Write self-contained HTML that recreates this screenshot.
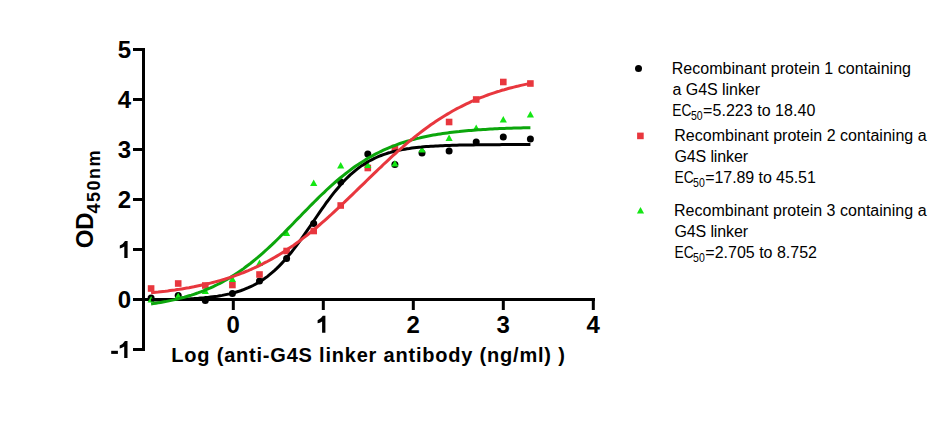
<!DOCTYPE html>
<html><head><meta charset="utf-8"><style>
html,body{margin:0;padding:0;background:#fff;}
body{width:950px;height:425px;overflow:hidden;}
svg{display:block;font-family:"Liberation Sans", sans-serif;}
</style></head><body>
<svg width="950" height="425" viewBox="0 0 950 425" font-family='"Liberation Sans", sans-serif'>
<rect width="950" height="425" fill="#fff"/>
<path d="M143.5,48 V351" stroke="#000" stroke-width="3" fill="none"/>
<path d="M133,349.5 H145" stroke="#000" stroke-width="3"/>
<path d="M133,299.5 H145" stroke="#000" stroke-width="3"/>
<path d="M133,249.5 H145" stroke="#000" stroke-width="3"/>
<path d="M133,199.5 H145" stroke="#000" stroke-width="3"/>
<path d="M133,149.5 H145" stroke="#000" stroke-width="3"/>
<path d="M133,99.5 H145" stroke="#000" stroke-width="3"/>
<path d="M133,49.5 H145" stroke="#000" stroke-width="3"/>
<path d="M142,299.5 H595" stroke="#000" stroke-width="3" fill="none"/>
<path d="M233.3,299.5 V310" stroke="#000" stroke-width="3"/>
<path d="M323.3,299.5 V310" stroke="#000" stroke-width="3"/>
<path d="M413.3,299.5 V310" stroke="#000" stroke-width="3"/>
<path d="M503.3,299.5 V310" stroke="#000" stroke-width="3"/>
<path d="M593.3,299.5 V310" stroke="#000" stroke-width="3"/>
<rect x="111.2" y="350.8" width="6.7" height="3.1" fill="#000"/>
<path d="M127.5,341.0 V358.0 H124.2 V346.6 Q122.1,348.0 119.7,348.4 V345.5 Q123.1,344.2 124.9,341.0 Z" fill="#000"/>
<text x="131" y="308.0" text-anchor="end" font-size="24" font-weight="bold">0</text>
<path d="M127.6,241 V258.0 H124.3 V246.6 Q122.2,248.0 119.8,248.4 V245.5 Q123.2,244.2 125.0,241 Z" fill="#000"/>
<text x="131" y="208.0" text-anchor="end" font-size="24" font-weight="bold">2</text>
<text x="131" y="158.0" text-anchor="end" font-size="24" font-weight="bold">3</text>
<text x="131" y="108.0" text-anchor="end" font-size="24" font-weight="bold">4</text>
<text x="131" y="58.0" text-anchor="end" font-size="24" font-weight="bold">5</text>
<text x="233.3" y="332.5" text-anchor="middle" font-size="24" font-weight="bold">0</text>
<path d="M325.4,315.8 V332.8 H322.1 V321.4 Q320.0,322.8 317.6,323.2 V320.3 Q321.0,319.0 322.8,315.8 Z" fill="#000"/>
<text x="413.3" y="332.5" text-anchor="middle" font-size="24" font-weight="bold">2</text>
<text x="503.3" y="332.5" text-anchor="middle" font-size="24" font-weight="bold">3</text>
<text x="593.3" y="332.5" text-anchor="middle" font-size="24" font-weight="bold">4</text>
<text x="171.3" y="362.3" font-size="20" font-weight="bold" textLength="393.5" lengthAdjust="spacing">Log (anti-G4S linker antibody (ng/ml) )</text>
<text transform="translate(93.2,248.3) rotate(-90)" font-size="24" font-weight="bold">OD</text>
<text transform="translate(99.8,213.5) rotate(-90)" font-size="18" font-weight="bold" textLength="63" lengthAdjust="spacing">450nm</text>
<circle cx="151.1" cy="298.0" r="3.5" fill="#000"/>
<circle cx="178.2" cy="295.5" r="3.5" fill="#000"/>
<circle cx="205.3" cy="300.5" r="3.5" fill="#000"/>
<circle cx="232.4" cy="293.5" r="3.5" fill="#000"/>
<circle cx="259.5" cy="281.0" r="3.5" fill="#000"/>
<circle cx="286.6" cy="258.5" r="3.5" fill="#000"/>
<circle cx="313.7" cy="223.5" r="3.5" fill="#000"/>
<circle cx="340.7" cy="182.0" r="3.5" fill="#000"/>
<circle cx="367.8" cy="154.0" r="3.5" fill="#000"/>
<circle cx="394.9" cy="164.5" r="3.5" fill="#000"/>
<circle cx="422.0" cy="153.0" r="3.5" fill="#000"/>
<circle cx="449.1" cy="151.0" r="3.5" fill="#000"/>
<circle cx="476.2" cy="142.0" r="3.5" fill="#000"/>
<circle cx="503.3" cy="137.0" r="3.5" fill="#000"/>
<circle cx="530.4" cy="139.0" r="3.5" fill="#000"/>
<rect x="147.8" y="285.2" width="6.6" height="6.6" fill="#e8373e"/>
<rect x="174.9" y="280.2" width="6.6" height="6.6" fill="#e8373e"/>
<rect x="202.0" y="282.2" width="6.6" height="6.6" fill="#e8373e"/>
<rect x="229.1" y="281.7" width="6.6" height="6.6" fill="#e8373e"/>
<rect x="256.2" y="271.2" width="6.6" height="6.6" fill="#e8373e"/>
<rect x="283.3" y="247.7" width="6.6" height="6.6" fill="#e8373e"/>
<rect x="310.4" y="227.7" width="6.6" height="6.6" fill="#e8373e"/>
<rect x="337.4" y="202.2" width="6.6" height="6.6" fill="#e8373e"/>
<rect x="364.5" y="164.7" width="6.6" height="6.6" fill="#e8373e"/>
<rect x="391.6" y="144.7" width="6.6" height="6.6" fill="#e8373e"/>
<rect x="445.8" y="118.7" width="6.6" height="6.6" fill="#e8373e"/>
<rect x="472.9" y="96.2" width="6.6" height="6.6" fill="#e8373e"/>
<rect x="500.0" y="78.7" width="6.6" height="6.6" fill="#e8373e"/>
<rect x="527.1" y="80.2" width="6.6" height="6.6" fill="#e8373e"/>
<path d="M151.1,295.9 L154.7,302.6 L147.5,302.6 Z" fill="#14e614"/>
<path d="M178.2,292.4 L181.8,299.1 L174.6,299.1 Z" fill="#14e614"/>
<path d="M205.3,287.4 L208.9,294.1 L201.7,294.1 Z" fill="#14e614"/>
<path d="M232.4,275.4 L236.0,282.1 L228.8,282.1 Z" fill="#14e614"/>
<path d="M259.5,259.4 L263.1,266.1 L255.9,266.1 Z" fill="#14e614"/>
<path d="M286.6,229.4 L290.2,236.1 L283.0,236.1 Z" fill="#14e614"/>
<path d="M313.7,179.4 L317.3,186.1 L310.1,186.1 Z" fill="#14e614"/>
<path d="M340.7,161.9 L344.3,168.6 L337.1,168.6 Z" fill="#14e614"/>
<path d="M367.8,161.4 L371.4,168.1 L364.2,168.1 Z" fill="#14e614"/>
<path d="M394.9,159.9 L398.5,166.6 L391.3,166.6 Z" fill="#14e614"/>
<path d="M422.0,145.9 L425.6,152.6 L418.4,152.6 Z" fill="#14e614"/>
<path d="M449.1,134.4 L452.7,141.1 L445.5,141.1 Z" fill="#14e614"/>
<path d="M476.2,124.4 L479.8,131.1 L472.6,131.1 Z" fill="#14e614"/>
<path d="M503.3,115.9 L506.9,122.6 L499.7,122.6 Z" fill="#14e614"/>
<path d="M530.4,110.9 L534.0,117.6 L526.8,117.6 Z" fill="#14e614"/>
<path d="M151.1,300.0 L153.5,299.9 L155.9,299.9 L158.2,299.9 L160.6,299.8 L163.0,299.8 L165.4,299.7 L167.7,299.7 L170.1,299.6 L172.5,299.5 L174.8,299.5 L177.2,299.4 L179.6,299.3 L181.9,299.2 L184.3,299.1 L186.7,299.0 L189.1,298.9 L191.4,298.7 L193.8,298.6 L196.2,298.4 L198.5,298.3 L200.9,298.1 L203.3,297.9 L205.6,297.6 L208.0,297.4 L210.4,297.1 L212.8,296.8 L215.1,296.5 L217.5,296.2 L219.9,295.8 L222.2,295.4 L224.6,294.9 L227.0,294.4 L229.4,293.9 L231.7,293.3 L234.1,292.7 L236.5,292.0 L238.8,291.3 L241.2,290.5 L243.6,289.6 L245.9,288.7 L248.3,287.7 L250.7,286.6 L253.1,285.5 L255.4,284.2 L257.8,282.9 L260.2,281.5 L262.5,279.9 L264.9,278.3 L267.3,276.6 L269.6,274.7 L272.0,272.7 L274.4,270.6 L276.8,268.4 L279.1,266.1 L281.5,263.6 L283.9,261.1 L286.2,258.4 L288.6,255.6 L291.0,252.7 L293.4,249.7 L295.7,246.6 L298.1,243.4 L300.5,240.1 L302.8,236.8 L305.2,233.4 L307.6,229.9 L309.9,226.5 L312.3,223.0 L314.7,219.5 L317.1,216.0 L319.4,212.6 L321.8,209.2 L324.2,205.8 L326.5,202.5 L328.9,199.3 L331.3,196.2 L333.6,193.1 L336.0,190.2 L338.4,187.4 L340.8,184.6 L343.1,182.0 L345.5,179.5 L347.9,177.2 L350.2,174.9 L352.6,172.8 L355.0,170.8 L357.4,168.9 L359.7,167.1 L362.1,165.4 L364.5,163.9 L366.8,162.4 L369.2,161.0 L371.6,159.8 L373.9,158.6 L376.3,157.5 L378.7,156.4 L381.1,155.5 L383.4,154.6 L385.8,153.8 L388.2,153.0 L390.5,152.4 L392.9,151.7 L395.3,151.1 L397.6,150.6 L400.0,150.1 L402.4,149.6 L404.8,149.2 L407.1,148.8 L409.5,148.5 L411.9,148.1 L414.2,147.8 L416.6,147.5 L419.0,147.3 L421.4,147.1 L423.7,146.8 L426.1,146.6 L428.5,146.5 L430.8,146.3 L433.2,146.2 L435.6,146.0 L437.9,145.9 L440.3,145.8 L442.7,145.7 L445.1,145.6 L447.4,145.5 L449.8,145.4 L452.2,145.3 L454.5,145.3 L456.9,145.2 L459.3,145.1 L461.6,145.1 L464.0,145.0 L466.4,145.0 L468.8,144.9 L471.1,144.9 L473.5,144.9 L475.9,144.8 L478.2,144.8 L480.6,144.8 L483.0,144.8 L485.4,144.7 L487.7,144.7 L490.1,144.7 L492.5,144.7 L494.8,144.7 L497.2,144.7 L499.6,144.7 L501.9,144.6 L504.3,144.6 L506.7,144.6 L509.1,144.6 L511.4,144.6 L513.8,144.6 L516.2,144.6 L518.5,144.6 L520.9,144.6 L523.3,144.6 L525.6,144.6 L528.0,144.6 L530.4,144.6" stroke="#000" stroke-width="3" fill="none"/>
<path d="M151.1,303.9 L153.5,303.6 L155.9,303.2 L158.2,302.8 L160.6,302.4 L163.0,302.0 L165.4,301.6 L167.7,301.1 L170.1,300.6 L172.5,300.1 L174.8,299.6 L177.2,299.0 L179.6,298.4 L181.9,297.8 L184.3,297.2 L186.7,296.5 L189.1,295.8 L191.4,295.1 L193.8,294.3 L196.2,293.5 L198.5,292.7 L200.9,291.8 L203.3,290.9 L205.6,289.9 L208.0,288.9 L210.4,287.9 L212.8,286.8 L215.1,285.7 L217.5,284.5 L219.9,283.3 L222.2,282.1 L224.6,280.8 L227.0,279.4 L229.4,278.0 L231.7,276.6 L234.1,275.1 L236.5,273.5 L238.8,271.9 L241.2,270.3 L243.6,268.6 L245.9,266.8 L248.3,265.0 L250.7,263.2 L253.1,261.3 L255.4,259.4 L257.8,257.4 L260.2,255.3 L262.5,253.3 L264.9,251.2 L267.3,249.0 L269.6,246.8 L272.0,244.6 L274.4,242.3 L276.8,240.0 L279.1,237.7 L281.5,235.3 L283.9,233.0 L286.2,230.6 L288.6,228.1 L291.0,225.7 L293.4,223.3 L295.7,220.8 L298.1,218.4 L300.5,216.0 L302.8,213.5 L305.2,211.1 L307.6,208.7 L309.9,206.3 L312.3,203.9 L314.7,201.5 L317.1,199.1 L319.4,196.8 L321.8,194.5 L324.2,192.3 L326.5,190.0 L328.9,187.8 L331.3,185.7 L333.6,183.6 L336.0,181.5 L338.4,179.5 L340.8,177.5 L343.1,175.6 L345.5,173.7 L347.9,171.9 L350.2,170.1 L352.6,168.3 L355.0,166.6 L357.4,165.0 L359.7,163.4 L362.1,161.9 L364.5,160.4 L366.8,158.9 L369.2,157.5 L371.6,156.2 L373.9,154.9 L376.3,153.7 L378.7,152.5 L381.1,151.3 L383.4,150.2 L385.8,149.1 L388.2,148.1 L390.5,147.1 L392.9,146.2 L395.3,145.3 L397.6,144.4 L400.0,143.5 L402.4,142.7 L404.8,142.0 L407.1,141.3 L409.5,140.6 L411.9,139.9 L414.2,139.2 L416.6,138.6 L419.0,138.1 L421.4,137.5 L423.7,137.0 L426.1,136.5 L428.5,136.0 L430.8,135.5 L433.2,135.1 L435.6,134.7 L437.9,134.3 L440.3,133.9 L442.7,133.5 L445.1,133.2 L447.4,132.9 L449.8,132.6 L452.2,132.3 L454.5,132.0 L456.9,131.7 L459.3,131.5 L461.6,131.2 L464.0,131.0 L466.4,130.8 L468.8,130.6 L471.1,130.4 L473.5,130.2 L475.9,130.0 L478.2,129.8 L480.6,129.7 L483.0,129.5 L485.4,129.4 L487.7,129.2 L490.1,129.1 L492.5,129.0 L494.8,128.8 L497.2,128.7 L499.6,128.6 L501.9,128.5 L504.3,128.4 L506.7,128.3 L509.1,128.3 L511.4,128.2 L513.8,128.1 L516.2,128.0 L518.5,128.0 L520.9,127.9 L523.3,127.8 L525.6,127.8 L528.0,127.7 L530.4,127.7" stroke="#0ca60c" stroke-width="3" fill="none"/>
<path d="M151.1,292.8 L153.5,292.6 L155.9,292.3 L158.2,292.1 L160.6,291.8 L163.0,291.5 L165.4,291.3 L167.7,291.0 L170.1,290.6 L172.5,290.3 L174.8,290.0 L177.2,289.6 L179.6,289.3 L181.9,288.9 L184.3,288.5 L186.7,288.1 L189.1,287.7 L191.4,287.2 L193.8,286.8 L196.2,286.3 L198.5,285.8 L200.9,285.3 L203.3,284.8 L205.6,284.3 L208.0,283.7 L210.4,283.1 L212.8,282.5 L215.1,281.9 L217.5,281.3 L219.9,280.6 L222.2,279.9 L224.6,279.2 L227.0,278.4 L229.4,277.7 L231.7,276.9 L234.1,276.1 L236.5,275.2 L238.8,274.3 L241.2,273.4 L243.6,272.5 L245.9,271.5 L248.3,270.6 L250.7,269.5 L253.1,268.5 L255.4,267.4 L257.8,266.3 L260.2,265.1 L262.5,264.0 L264.9,262.7 L267.3,261.5 L269.6,260.2 L272.0,258.9 L274.4,257.5 L276.8,256.1 L279.1,254.7 L281.5,253.2 L283.9,251.7 L286.2,250.2 L288.6,248.6 L291.0,247.0 L293.4,245.4 L295.7,243.7 L298.1,242.0 L300.5,240.2 L302.8,238.4 L305.2,236.6 L307.6,234.8 L309.9,232.9 L312.3,230.9 L314.7,229.0 L317.1,227.0 L319.4,225.0 L321.8,222.9 L324.2,220.9 L326.5,218.8 L328.9,216.7 L331.3,214.5 L333.6,212.3 L336.0,210.1 L338.4,207.9 L340.8,205.7 L343.1,203.5 L345.5,201.2 L347.9,198.9 L350.2,196.6 L352.6,194.3 L355.0,192.0 L357.4,189.7 L359.7,187.4 L362.1,185.1 L364.5,182.8 L366.8,180.5 L369.2,178.2 L371.6,175.9 L373.9,173.6 L376.3,171.3 L378.7,169.0 L381.1,166.8 L383.4,164.5 L385.8,162.3 L388.2,160.1 L390.5,157.9 L392.9,155.7 L395.3,153.6 L397.6,151.4 L400.0,149.3 L402.4,147.3 L404.8,145.2 L407.1,143.2 L409.5,141.2 L411.9,139.3 L414.2,137.3 L416.6,135.5 L419.0,133.6 L421.4,131.8 L423.7,130.0 L426.1,128.2 L428.5,126.5 L430.8,124.8 L433.2,123.2 L435.6,121.6 L437.9,120.0 L440.3,118.5 L442.7,117.0 L445.1,115.5 L447.4,114.1 L449.8,112.7 L452.2,111.3 L454.5,110.0 L456.9,108.7 L459.3,107.5 L461.6,106.3 L464.0,105.1 L466.4,103.9 L468.8,102.8 L471.1,101.7 L473.5,100.7 L475.9,99.7 L478.2,98.7 L480.6,97.7 L483.0,96.8 L485.4,95.9 L487.7,95.0 L490.1,94.2 L492.5,93.4 L494.8,92.6 L497.2,91.8 L499.6,91.1 L501.9,90.3 L504.3,89.7 L506.7,89.0 L509.1,88.3 L511.4,87.7 L513.8,87.1 L516.2,86.5 L518.5,86.0 L520.9,85.4 L523.3,84.9 L525.6,84.4 L528.0,83.9 L530.4,83.4" stroke="#e8373e" stroke-width="3" fill="none"/>
<circle cx="638.5" cy="68.6" r="3.5" fill="#000"/>
<rect x="637.1" y="132.6" width="6.6" height="6.6" fill="#e8373e"/>
<path d="M640.5,206.9 L644.1,213.6 L636.9,213.6 Z" fill="#14e614"/>
<text x="671.7" y="73.8" font-size="16" textLength="239.3" lengthAdjust="spacing">Recombinant protein 1 containing</text>
<text x="672.5" y="94.9" font-size="16" textLength="87.5" lengthAdjust="spacing">a G4S linker</text>
<text x="672.3" y="116" font-size="16" textLength="19.2" lengthAdjust="spacingAndGlyphs">EC</text>
<text x="690.9" y="119.8" font-size="13" textLength="11.7" lengthAdjust="spacingAndGlyphs">50</text>
<text x="703.1" y="116" font-size="16" textLength="112.2" lengthAdjust="spacing">=5.223 to 18.40</text>
<text x="674.2" y="140.8" font-size="16" textLength="252.4" lengthAdjust="spacing">Recombinant protein 2 containing a</text>
<text x="674.5" y="161.9" font-size="16" textLength="73.5" lengthAdjust="spacing">G4S linker</text>
<text x="674.5" y="183" font-size="16" textLength="19.2" lengthAdjust="spacingAndGlyphs">EC</text>
<text x="693.1" y="186.8" font-size="13" textLength="11.7" lengthAdjust="spacingAndGlyphs">50</text>
<text x="705.3" y="183" font-size="16" textLength="110.5" lengthAdjust="spacing">=17.89 to 45.51</text>
<text x="674.0" y="215.8" font-size="16" textLength="252.6" lengthAdjust="spacing">Recombinant protein 3 containing a</text>
<text x="674.5" y="236.9" font-size="16" textLength="73.5" lengthAdjust="spacing">G4S linker</text>
<text x="674.5" y="258" font-size="16" textLength="19.2" lengthAdjust="spacingAndGlyphs">EC</text>
<text x="693.1" y="261.8" font-size="13" textLength="11.7" lengthAdjust="spacingAndGlyphs">50</text>
<text x="705.3" y="258" font-size="16" textLength="111.7" lengthAdjust="spacing">=2.705 to 8.752</text>
</svg>
</body></html>
